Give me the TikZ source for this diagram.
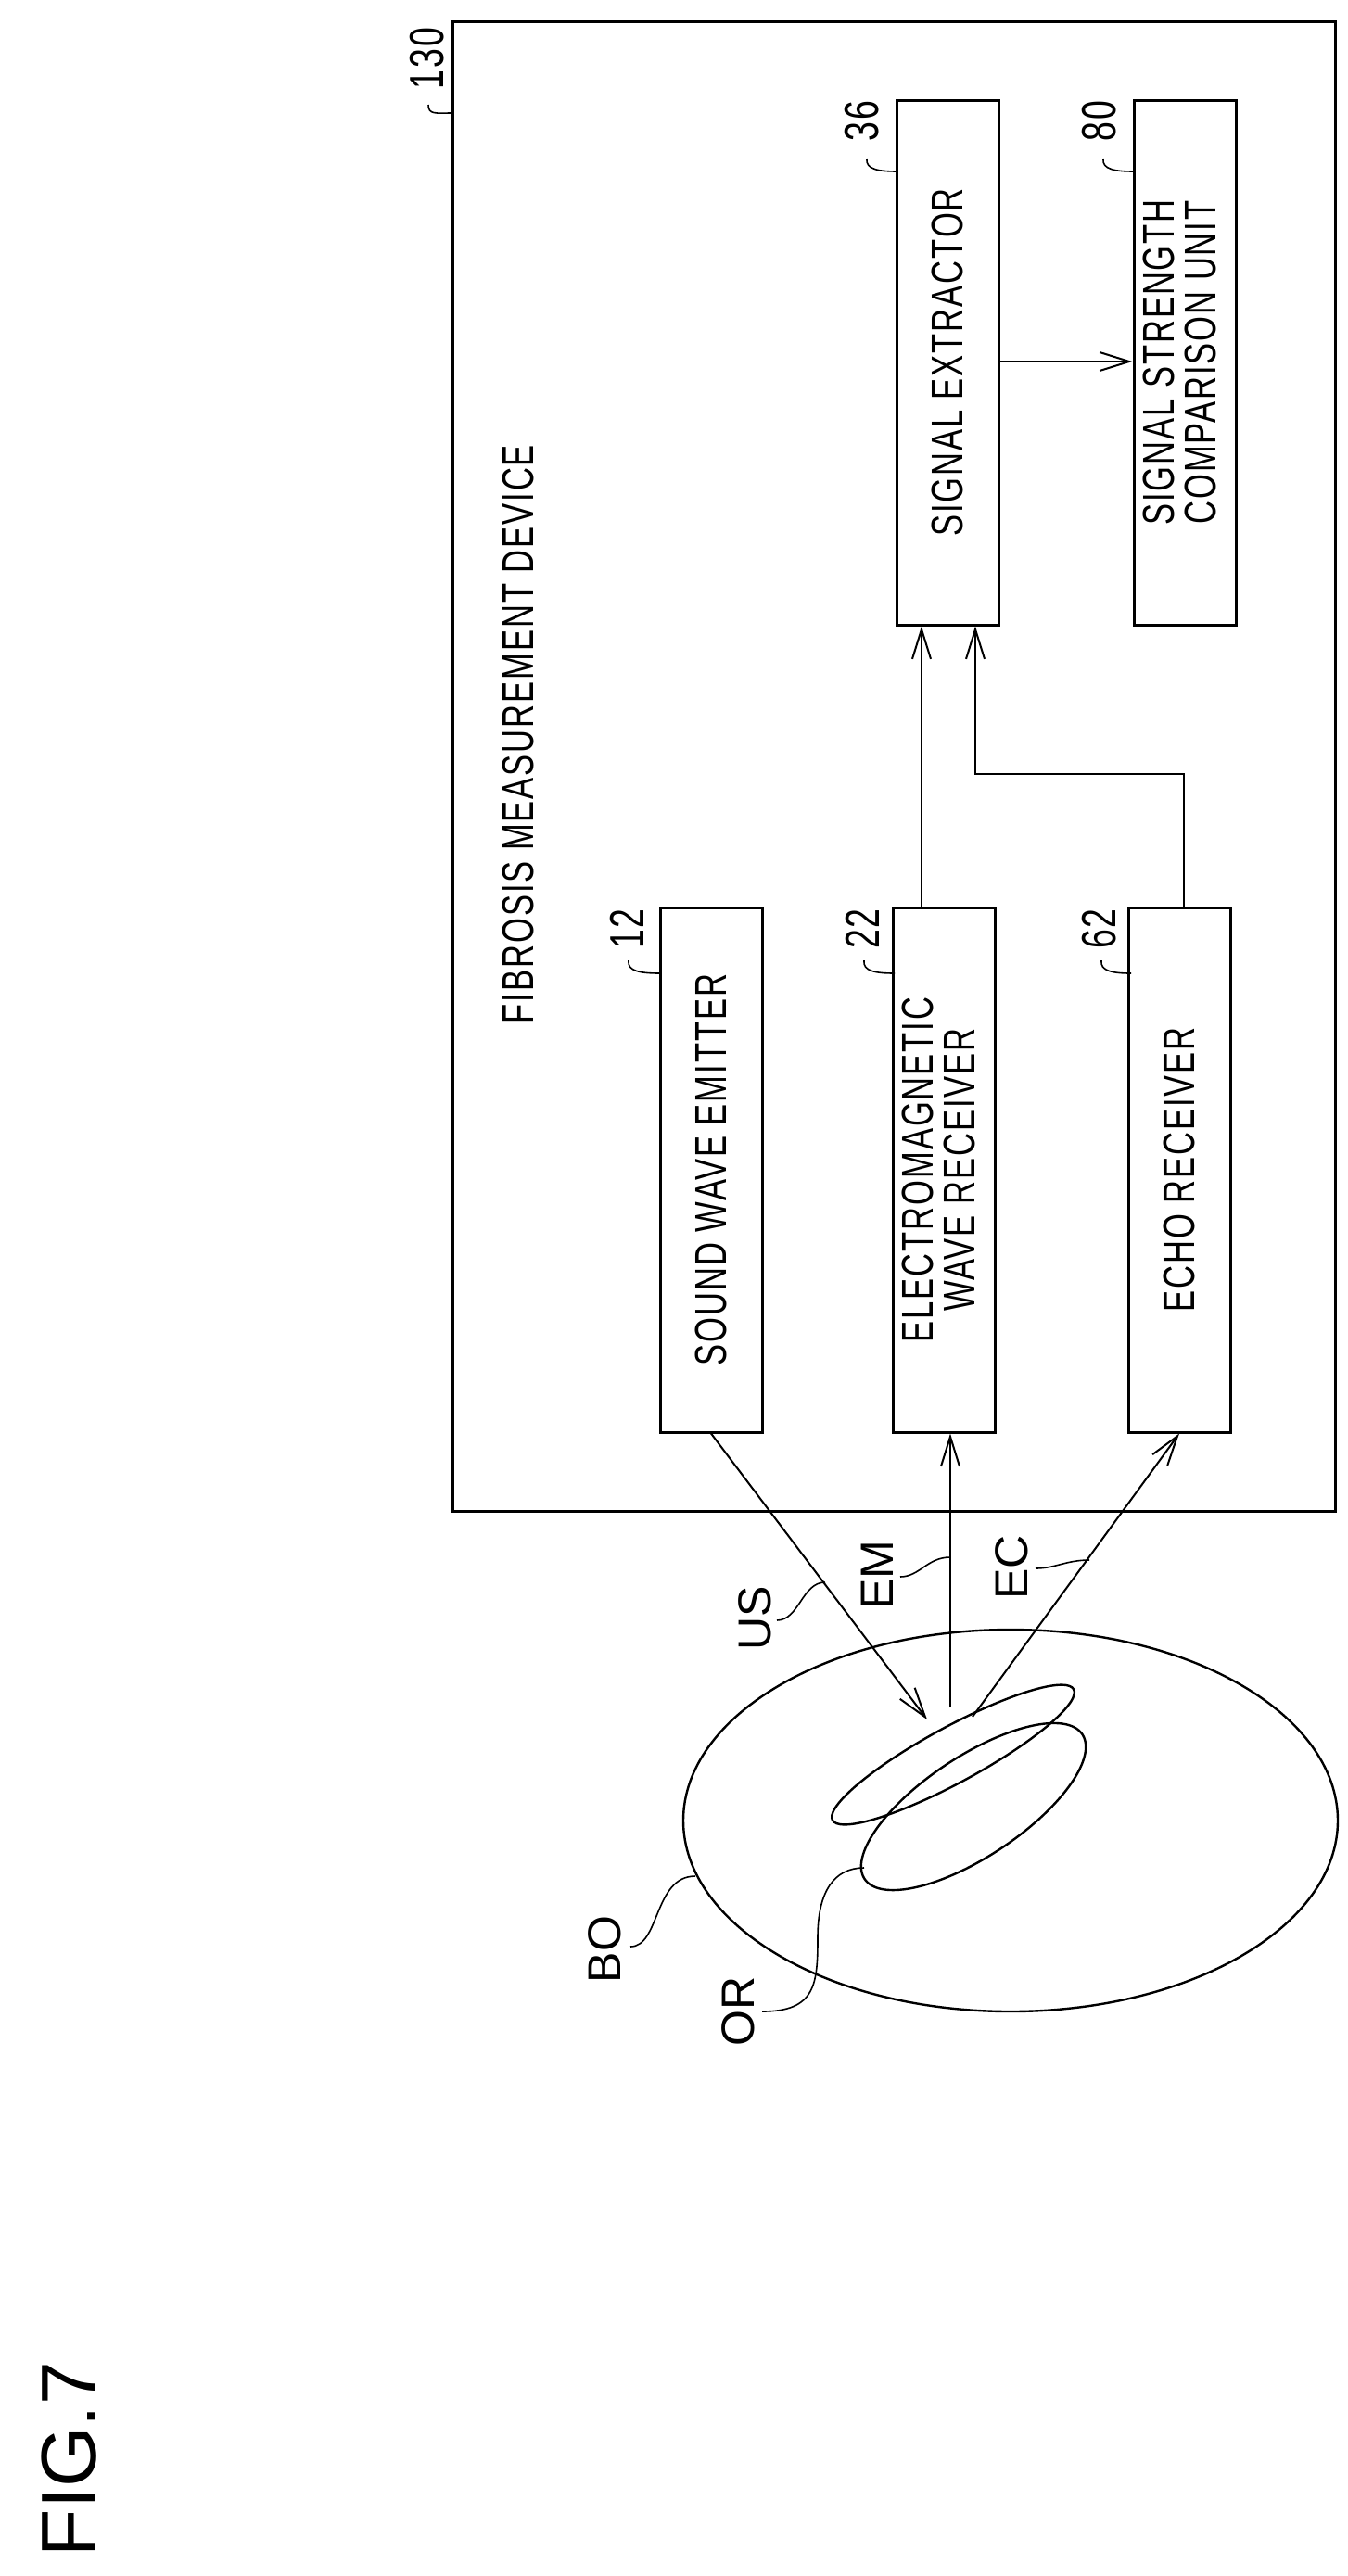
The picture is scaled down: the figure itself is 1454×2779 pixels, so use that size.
\documentclass[tikz,border=0pt]{standalone}
\usepackage{fontspec}
\setmainfont{Liberation Sans}
\newfontfamily\cond{Liberation Sans}[FakeStretch=0.72,LetterSpace=4]
\usetikzlibrary{arrows.meta,calc}
\begin{document}
\begin{tikzpicture}[x=0.5pt,y=-0.5pt,
  box/.style={draw,line width=1.5pt,minimum width=55pt,minimum height=283pt,inner sep=0pt},
  btxt/.style={font=\cond\fontsize{24}{20}\selectfont},
  num/.style={font=\cond\fontsize{26}{26}\selectfont,rotate=90,inner sep=0pt},
  lab/.style={font=\fontsize{25}{25}\selectfont,rotate=90,inner sep=0pt},
  lead/.style={line width=0.8pt},
  arr/.style={line width=1pt,-{Straight Barb[length=16pt,width=10pt,line width=1pt]}}]
\useasboundingbox (0,0) rectangle (1454,2779);
% outer
\node[draw,line width=1.5pt,minimum width=476pt,minimum height=803.5pt,inner sep=0pt] (dev) at (964,826.5) {};
\node[font=\cond\fontsize{24}{24}\selectfont,rotate=90,inner sep=0pt] (title) at (559,792) {FIBROSIS MEASUREMENT DEVICE};
% boxes
\node[box,btxt] (sw) at (767,1262) {\rotatebox{90}{SOUND WAVE EMITTER}};
\node[box,btxt] (em) at (1018,1262) {\rotatebox{90}{\begin{tabular}{@{}c@{}}ELECTROMAGNETIC\\WAVE RECEIVER\end{tabular}}};
\node[box,btxt] (ec) at (1272,1262) {\rotatebox{90}{ECHO RECEIVER}};
\node[box,btxt] (se) at (1022,391) {\rotatebox{90}{SIGNAL EXTRACTOR}};
\node[box,btxt] (ss) at (1278,391) {\rotatebox{90}{\begin{tabular}{@{}c@{}}SIGNAL STRENGTH\\COMPARISON UNIT\end{tabular}}};
% reference numbers
\node[num] (n130) at (461,63) {130};
\node[num] (n12) at (676,1002) {12};
\node[num] (n22) at (930,1002) {22};
\node[num] (n62) at (1186,1002) {62};
\node[num] (n36) at (930,131) {36};
\node[num] (n80) at (1186,131) {80};
\draw[lead] (462,113) .. controls (462,124) and (470,122) .. (488,122);
\draw[lead] (678,1036) .. controls (676,1048) and (692,1050) .. (712,1050);
\draw[lead] (932,1036) .. controls (930,1048) and (946,1050) .. (965,1050);
\draw[lead] (1188,1036) .. controls (1186,1048) and (1202,1050) .. (1220,1050);
\draw[lead] (935,171) .. controls (933,183) and (949,185) .. (968,185);
\draw[lead] (1190,171) .. controls (1188,183) and (1204,185) .. (1223,185);
% internal arrows
\draw[arr] (em.north -| 994,0) -- (se.south -| 994,0);
\draw[arr] (ec.north -| 1277,0) -- (1277,835) -- (1052,835) -- (se.south -| 1052,0);
\draw[arr] (se.east |- 0,390) -- (ss.west |- 0,390);
% body
\draw[line width=1.2pt] (1090,1964) ellipse [x radius=353, y radius=206];
\draw[line width=1.2pt] plot[domain=0:355,samples=72,smooth cycle] ({1050+141*cos(\x)*cos(-33.6)-54*sin(\x)*sin(-33.6)},{1949+141*cos(\x)*sin(-33.6)+54*sin(\x)*cos(-33.6)});
\draw[line width=1.2pt] plot[domain=0:355,samples=72,smooth cycle] ({1028+148*cos(\x)*cos(-28.5)-30*sin(\x)*sin(-28.5)},{1893+148*cos(\x)*sin(-28.5)+30*sin(\x)*cos(-28.5)});
\coordinate (us) at (1000,1855);
\coordinate (emo) at (1025,1842);
\coordinate (eco) at (1049,1852);
\draw[arr] (sw.south) -- (us);
\draw[arr] (emo) -- (em.south -| emo);
\draw[arr] (eco) -- (ec.south);
% labels
\node[lab] (lUS) at (814,1746) {US};
\node[lab] (lEM) at (946,1699) {EM};
\node[lab] (lEC) at (1091,1691) {EC};
\node[lab] (lBO) at (652,2103) {BO};
\node[lab] (lOR) at (796,2170) {OR};
\draw[lead] (838,1748) .. controls (862,1748) and (865,1707) .. (890,1707);
\draw[lead] (971,1701) .. controls (992,1701) and (1000,1680) .. (1025,1680);
\draw[lead] (1117,1692) .. controls (1138,1692) and (1150,1683) .. (1175,1683);
\draw[lead] (680,2100) .. controls (712,2100) and (705,2024) .. (750,2024);
\draw[lead] (822,2170) .. controls (880,2170) and (882,2140) .. (882,2090) .. controls (882,2040) and (900,2015) .. (932,2015);
\node[font=\fontsize{42}{42}\selectfont,rotate=90,inner sep=0pt] (fig) at (75,2653) {FIG.7};
\end{tikzpicture}
\end{document}
